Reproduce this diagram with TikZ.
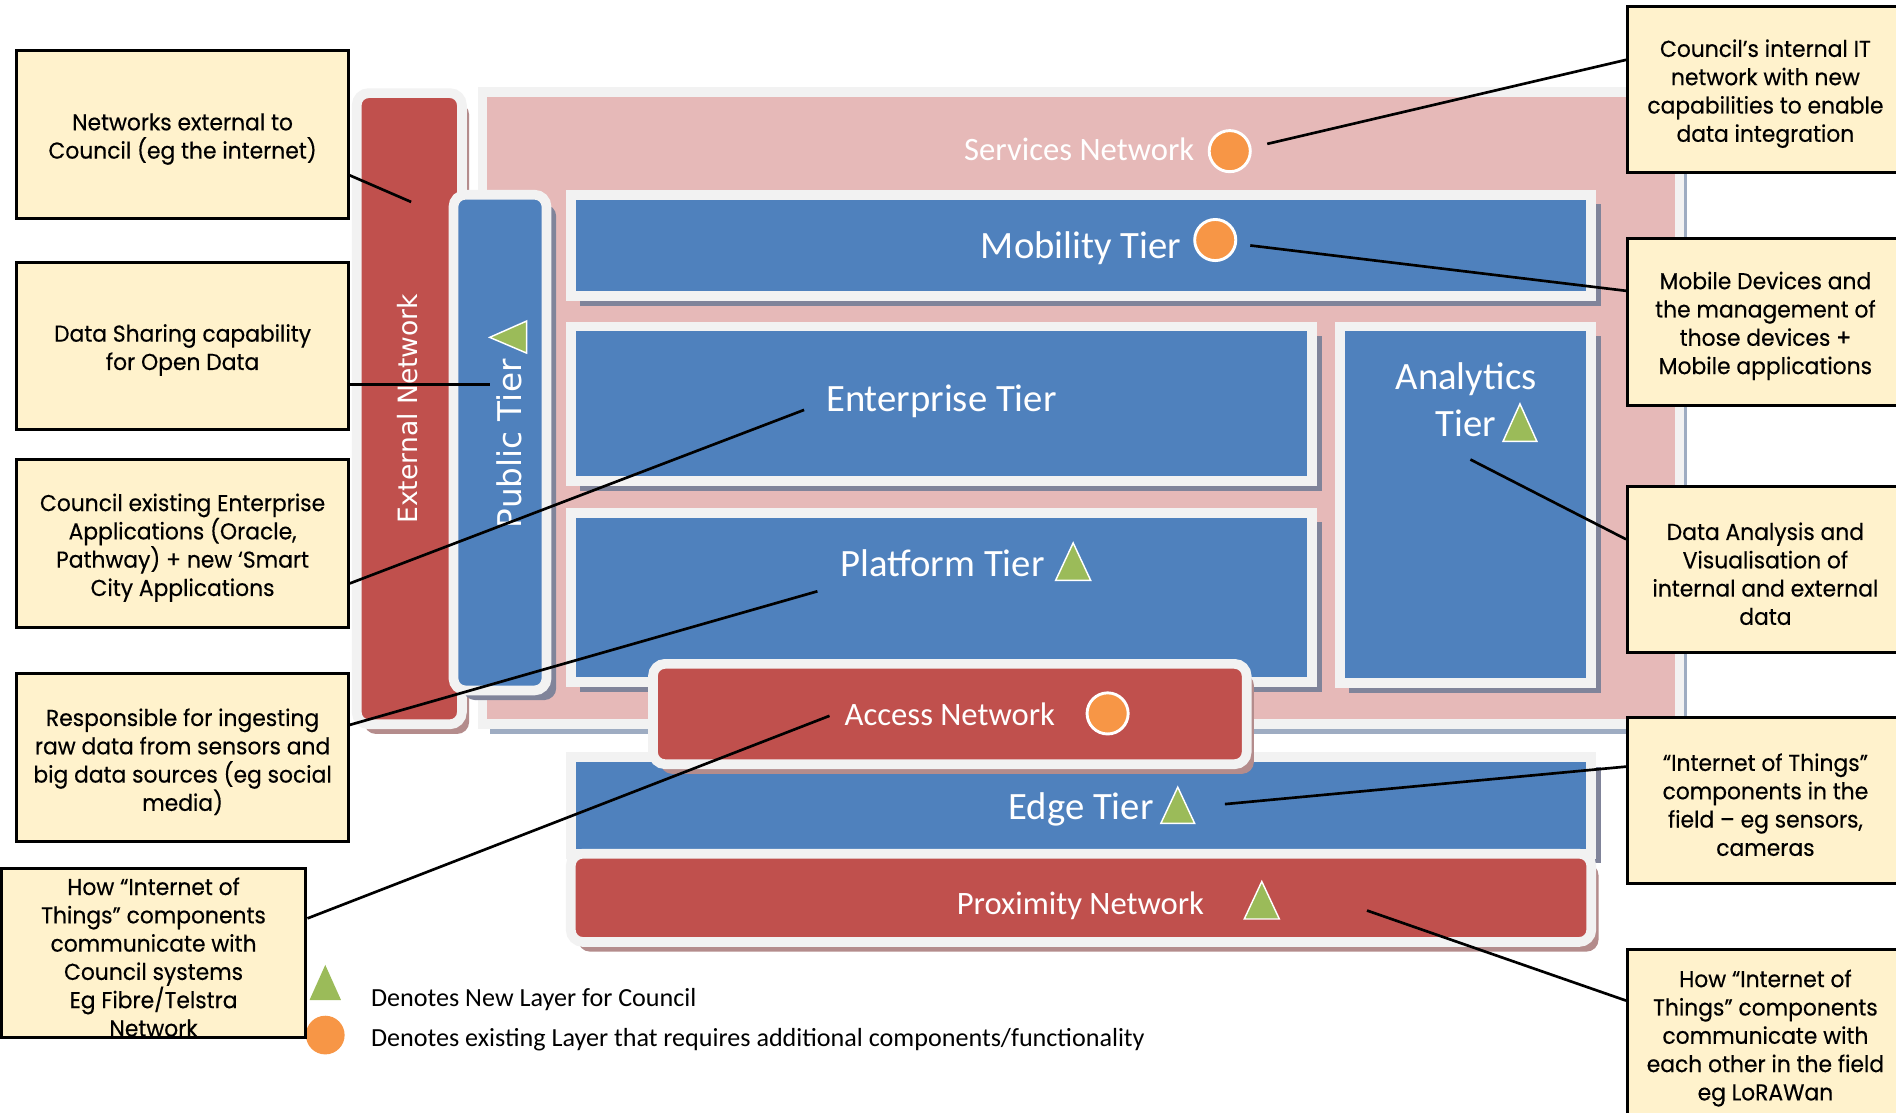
\documentclass[tikz,border=0pt]{standalone}
\usepackage{fontspec}
\setmainfont{Carlito}
\newfontfamily\callfont[FakeStretch=0.95,FakeBold=0.4]{Poppins}
\newfontfamily\dvfont{DejaVu Sans}
\usetikzlibrary{shadows,fit}
\definecolor{tierblue}{HTML}{4F81BD}
\definecolor{netred}{HTML}{C0504D}
\definecolor{pinkfill}{HTML}{E6B9B8}
\definecolor{framewhite}{HTML}{F2F2F2}
\definecolor{blueshadow}{HTML}{80849A}
\definecolor{redshadow}{HTML}{B48C8C}
\definecolor{pinkshadow}{HTML}{9EACC2}
\definecolor{calloutfill}{HTML}{FFF2CC}
\definecolor{markgreen}{HTML}{9BBB59}
\definecolor{markorange}{HTML}{F79646}
\tikzset{
  tierframe/.style={inner sep=0pt, outer sep=0pt, draw=framewhite, line width=4pt},
  bluetier/.style={tierframe, fill=tierblue, drop shadow={shadow xshift=4pt, shadow yshift=-4pt, fill=blueshadow, opacity=1}},
  bluerounded/.style={bluetier, rounded corners=5pt},
  redtier/.style={tierframe, fill=netred, rounded corners=5pt, drop shadow={shadow xshift=3pt, shadow yshift=-4pt, fill=redshadow, opacity=1}},
  pinktier/.style={tierframe, fill=pinkfill, drop shadow={shadow xshift=3pt, shadow yshift=-4pt, fill=pinkshadow, opacity=1}},
  callout/.style={draw=black, line width=1.25pt, fill=calloutfill, inner sep=0pt},
  callouttext/.style={inner sep=0pt, align=center, anchor=center, yshift=-1.75pt, font=\callfont\fontsize{9.5}{11.7}\selectfont},
  tierlabel/.style={text=white, inner sep=0pt, anchor=base, font=\fontsize{16}{19}\selectfont},
  netlabel/.style={text=white, inner sep=0pt, anchor=base, font=\fontsize{13.5}{16}\selectfont},
  sidelabel/.style={text=white, inner sep=0pt, rotate=90},
  legendtext/.style={text=black, inner sep=0pt, anchor=base west, font=\fontsize{10.8}{13}\selectfont},
  conn/.style={draw=black, line width=1.1pt},
  newmark/.style={fill=markgreen, draw=white, line width=0.6pt},
  oldmark/.style={fill=markorange, draw=white, line width=1.2pt},
}
\begin{document}
\begin{tikzpicture}[x=0.5pt,y=-0.5pt]
\path[use as bounding box] (0,0) rectangle (1568,920);
\clip (0,0) rectangle (1568,920);
\fill[white] (0,0) rectangle (1568,920);

% layers
\node[pinktier, fit={(399,76) (1389,599)}] (services) {};
\node[redtier, fit={(295,77) (382,599)}] (external) {};
\node[bluerounded, fit={(375,161) (452,571)}] (public) {};
\node[bluetier, fit={(472,161) (1316,245)}] (mobility) {};
\node[bluetier, fit={(472,270) (1085,398)}] (enterprise) {};
\node[bluetier, fit={(1108,270) (1316,565)}] (analytics) {};
\node[bluetier, fit={(472,424) (1085,564)}] (platform) {};
\node[bluetier, fit={(472,626) (1316,706)}] (edge) {};
\node[redtier, fit={(472,706) (1316,779)}] (proximity) {};
\node[redtier, fit={(540,549) (1031,632)}] (access) {};

% labels
\node[netlabel] (lserv) at (892.5,133) {Services Network};
\node[tierlabel] (lmob) at (894,214) {Mobility Tier};
\node[tierlabel] (lent) at (778.5,340) {Enterprise Tier};
\node[tierlabel] (lplat) at (779.5,477) {Platform Tier};
\node[tierlabel] (lana1) at (1212.5,322) {Analytics};
\node[tierlabel] (lana2) at (1212.5,361) {Tier};
\node[netlabel] (lacc) at (785.5,599.6) {Access Network};
\node[tierlabel] (ledge) at (894,678) {Edge Tier};
\node[netlabel] (lprox) at (893.5,756) {Proximity Network};
\node[sidelabel, font=\dvfont\fontsize{11}{13}\selectfont] (lext) at (337,338) {External Network};
\node[sidelabel, font=\dvfont\fontsize{13.5}{16}\selectfont] (lpub) at (421,367) {Public Tier};

% markers
\filldraw[oldmark] (1017,125) circle (17);
\filldraw[oldmark] (1005,198.5) circle (17);
\filldraw[oldmark] (916,590) circle (17);
\filldraw[newmark] (873,480) -- (887.5,449) -- (902,480) -- cycle;
\filldraw[newmark] (1243,365) -- (1257,334) -- (1271,365) -- cycle;
\filldraw[newmark] (960,681) -- (974,651) -- (988,681) -- cycle;
\filldraw[newmark] (1029,760) -- (1043.5,729) -- (1058,760) -- cycle;
\filldraw[newmark] (405,279) -- (435.5,265.5) -- (435.5,292) -- cycle;

% legend
\fill[markgreen] (256,827) -- (269,798) -- (282,827) -- cycle;
\fill[markorange] (269,856) circle (16);
\node[legendtext] (leg1) at (306.5,832.5) {Denotes New Layer for Council};
\node[legendtext] (leg2) at (306.5,865.6) {Denotes existing Layer that requires additional components/functionality};

% callouts
\node[callout, fit={(14,42) (288,181)}] (b1) {};
\node[callout, fit={(14,217) (288,355)}] (b2) {};
\node[callout, fit={(14,380) (288,519)}] (b3) {};
\node[callout, fit={(14,557) (288,696)}] (b4) {};
\node[callout, fit={(1,718) (253,858)}] (b5) {};
\node[callout, fit={(1346,5) (1574,143)}] (b6) {};
\node[callout, fit={(1346,197) (1574,335)}] (b7) {};
\node[callout, fit={(1346,402) (1574,540)}] (b8) {};
\node[callout, fit={(1346,593) (1574,731)}] (b9) {};
\node[callout, fit={(1346,785) (1574,925)}] (b10) {};

\node[callouttext] (t1) at (b1.center) {Networks external to\\Council (eg the internet)};
\node[callouttext] (t2) at (b2.center) {Data Sharing capability\\for Open Data};
\node[callouttext] (t3) at (b3.center) {Council existing Enterprise\\Applications (Oracle,\\Pathway) + new ‘Smart\\City Applications};
\node[callouttext] (t4) at (b4.center) {Responsible for ingesting\\raw data from sensors and\\big data sources (eg social\\media)};
\node[callouttext] (t5) at (b5.center) {How “Internet of\\Things” components\\communicate with\\Council systems\\Eg Fibre/Telstra\\Network};
\node[callouttext] (t6) at (b6.center) {Council’s internal IT\\network with new\\capabilities to enable\\data integration};
\node[callouttext] (t7) at (b7.center) {Mobile Devices and\\the management of\\those devices +\\Mobile applications};
\node[callouttext] (t8) at (b8.center) {Data Analysis and\\Visualisation of\\internal and external\\data};
\node[callouttext] (t9) at (b9.center) {“Internet of Things”\\components in the\\field – eg sensors,\\cameras};
\node[callouttext] (t10) at (b10.center) {How “Internet of\\Things” components\\communicate with\\each other in the field\\eg LoRAWan};

% connector ends
\coordinate (c1) at (340,167);
\coordinate (c2) at (405,318);
\coordinate (c3) at (665,339);
\coordinate (c4) at (676,489);
\coordinate (c5) at (686,592);
\coordinate (c6) at (1048,119);
\coordinate (c7) at (1034,203);
\coordinate (c8) at (1216,380);
\coordinate (c9) at (1013,665);
\coordinate (c10) at (1130.5,753);

\draw[conn] ([yshift=-16.75pt]b1.east) -- (c1);
\draw[conn] ([yshift=-16pt]b2.east) -- (c2);
\draw[conn] ([yshift=-16.5pt]b3.east) -- (c3);
\draw[conn] ([yshift=13.5pt]b4.east) -- (c4);
\draw[conn] ([yshift=14.25pt]b5.east) -- (c5);
\draw[conn] ([yshift=12.25pt]b6.west) -- (c6);
\draw[conn] ([yshift=12.75pt]b7.west) -- (c7);
\draw[conn] ([yshift=12.5pt]b8.west) -- (c8);
\draw[conn] ([yshift=14pt]b9.west) -- (c9);
\draw[conn] ([yshift=13.75pt]b10.west) -- (c10);
\end{tikzpicture}
\end{document}
